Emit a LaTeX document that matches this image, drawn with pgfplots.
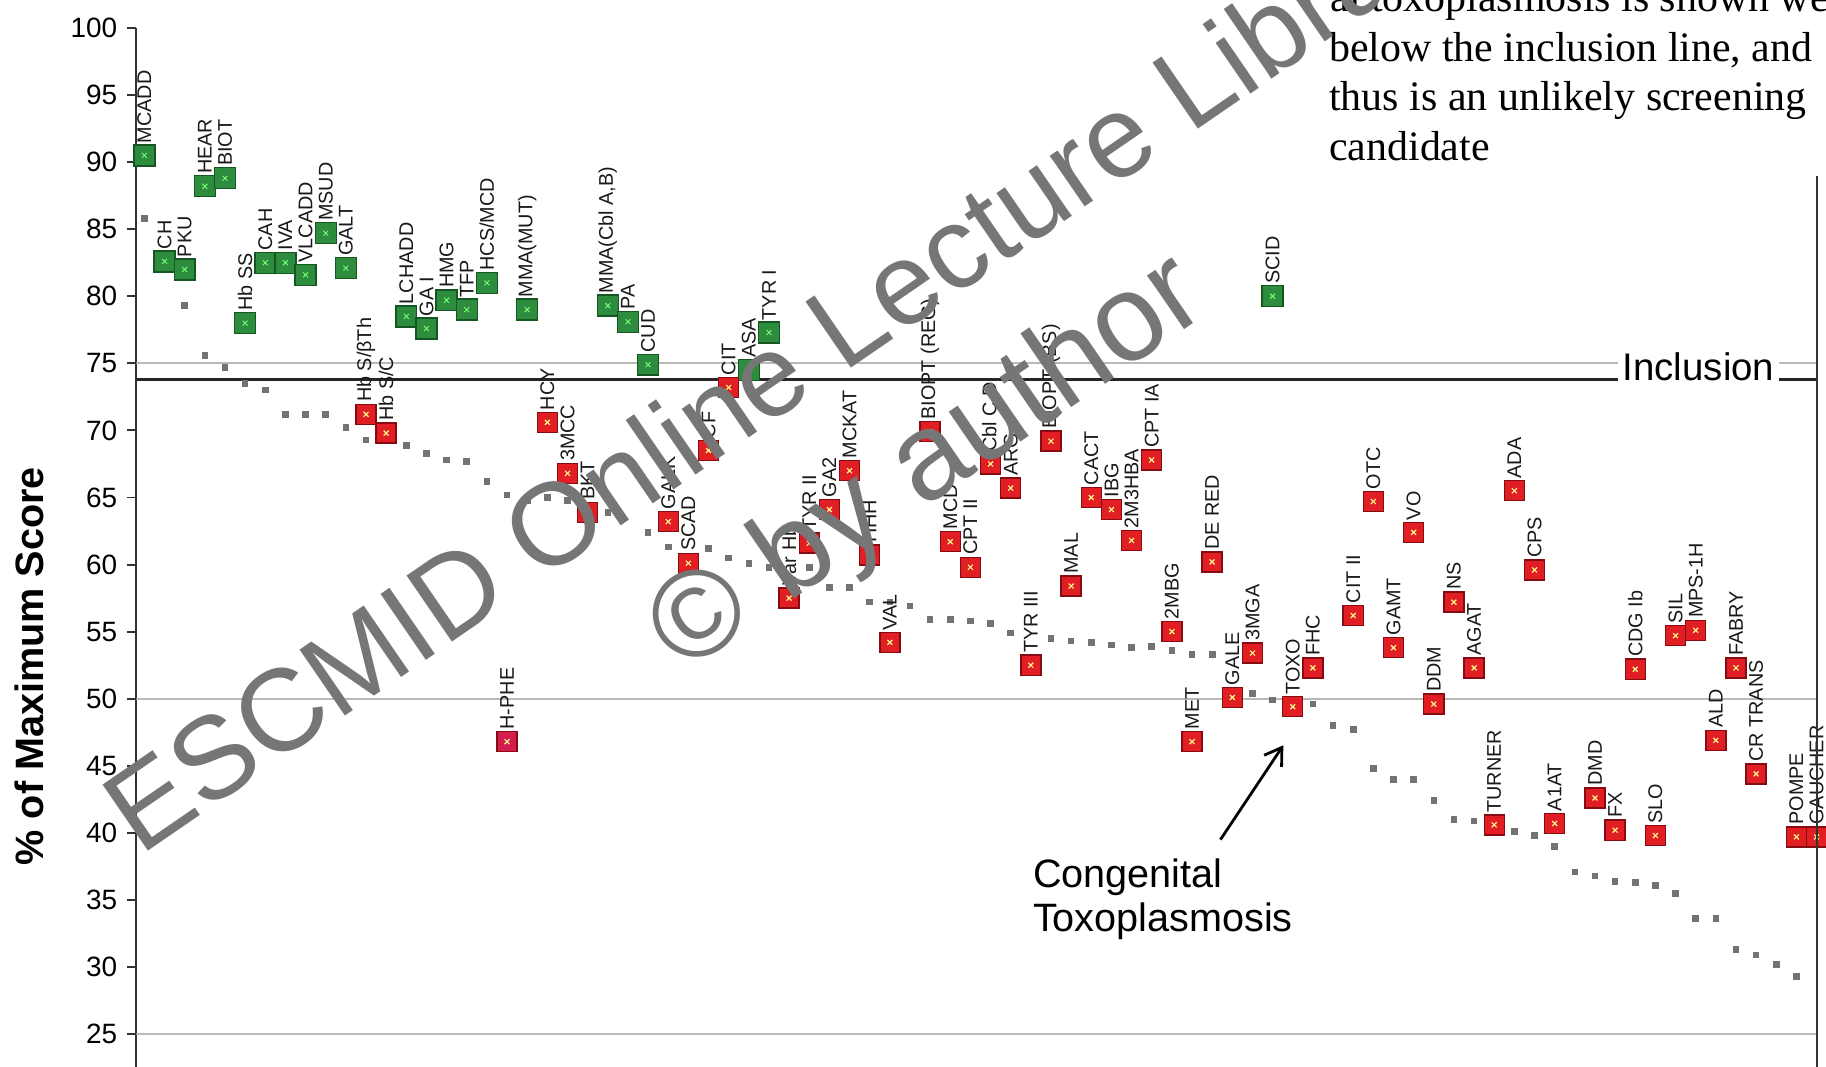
\documentclass[border=0pt]{standalone}
\usepackage{fontspec}
\setmainfont{Liberation Sans}
\newfontfamily\seriffont{Liberation Serif}
\usepackage{pgfplots}
\usepackage{pgfplotstable}
\pgfplotsset{compat=1.18}
\usetikzlibrary{arrows.meta}

\definecolor{gfill}{RGB}{46,140,62}
\definecolor{gdraw}{RGB}{22,86,34}
\definecolor{rfill}{RGB}{224,30,36}
\definecolor{rdraw}{RGB}{135,12,18}
\definecolor{pfill}{RGB}{212,28,78}
\definecolor{dotc}{RGB}{115,115,115}
\definecolor{wm}{RGB}{118,118,118}

% survey ranking series (small grey squares)
\pgfplotstableread{
x y
0 85.8
2 79.3
3 75.6
4 74.7
5 73.5
6 73.0
7 71.2
8 71.2
9 71.2
10 70.2
11 69.3
13 68.9
14 68.3
15 67.8
16 67.7
17 66.2
18 65.2
19 64.8
20 65.0
21 64.8
23 63.9
25 62.4
26 61.3
28 61.2
29 60.5
30 60.1
31 59.8
33 59.8
34 58.3
35 58.3
36 57.2
37 57.2
38 56.9
39 55.9
40 55.9
41 55.8
42 55.6
43 54.9
45 54.5
46 54.3
47 54.2
48 54.0
49 53.8
50 53.9
51 53.6
52 53.3
53 53.3
55 50.4
56 49.9
58 49.6
59 48.0
60 47.7
61 44.8
62 44.0
63 44.0
64 42.4
65 41.0
66 40.9
68 40.1
69 39.8
70 39.0
71 37.1
72 36.8
73 36.4
74 36.3
75 36.1
76 35.5
77 33.6
78 33.6
79 31.3
80 30.9
81 30.2
82 29.3
}\dotdata

% conditions above the inclusion line
\pgfplotstableread{
x y lab
0 90.5 MCADD
1 82.6 CH
2 82.0 PKU
3 88.2 HEAR
4 88.8 BIOT
5 78.0 {Hb SS}
6 82.5 CAH
7 82.5 IVA
8 81.6 VLCADD
9 84.7 MSUD
10 82.1 GALT
13 78.5 LCHADD
14 77.6 {GA I}
15 79.7 HMG
16 79.0 TFP
17 81.0 HCS/MCD
19 79.0 MMA(MUT)
23 79.3 {MMA(Cbl A,B)}
24 78.1 PA
25 74.9 CUD
30 74.5 ASA
31 77.3 {TYR I}
56 80.0 SCID
}\greendata

% conditions below the inclusion line
\pgfplotstableread{
x y lab
11 71.2 {Hb S/βTh}
12 69.8 {Hb S/C}
20 70.6 HCY
21 66.8 3MCC
22 63.9 BKT
26 63.2 GALK
27 60.1 SCAD
28 68.5 CF
29 73.2 CIT
32 57.5 {Var Hb}
33 61.6 {TYR II}
34 64.1 GA2
35 67.0 MCKAT
36 60.7 HHH
37 54.2 VAL
39 69.9 {BIOPT (REG)}
40 61.7 MCD
41 59.8 {CPT II}
42 67.5 {Cbl C,D}
43 65.7 ARG
44 52.5 {TYR III}
45 69.2 {BIOPT (BS)}
46 58.4 MAL
47 65.0 CACT
48 64.1 IBG
49 61.8 2M3HBA
50 67.8 {CPT IA}
51 55.0 2MBG
52 46.8 MET
53 60.2 {DE RED}
54 50.1 GALE
55 53.4 3MGA
57 49.4 TOXO
58 52.3 FHC
60 56.2 {CIT II}
61 64.7 OTC
62 53.8 GAMT
63 62.4 VO
64 49.6 DDM
65 57.2 NS
66 52.3 AGAT
67 40.6 TURNER
68 65.5 ADA
69 59.6 CPS
70 40.7 A1AT
72 42.6 DMD
73 40.2 FX
74 52.2 {CDG Ib}
75 39.8 SLO
76 54.7 SIL
77 55.1 MPS-1H
78 46.9 ALD
79 52.3 FABRY
80 44.4 {CR TRANS}
82 39.7 POMPE
83 39.7 GAUCHER
}\reddata

\pgfplotstableread{
x y lab
18 46.8 H-PHE
}\pinkdata

\begin{document}
\begin{tikzpicture}
\useasboundingbox (0pt,0pt) rectangle (784pt,-458pt);
\begin{scope}[overlay]
\clip (0pt,0pt) rectangle (784pt,-458pt);
\fill[white] (0pt,0pt) rectangle (784pt,-458pt);
\begin{axis}[
  at={(58.5pt,-12pt)}, anchor=north west,
  width=721.5pt, height=460.8pt, scale only axis,
  xmin=-0.4046, xmax=83.006, ymin=20, ymax=100,
  axis y line*=left, axis x line=none,
  xtick=\empty,
  ytick={25,30,...,100},
  tick align=outside, major tick length=4pt,
  tick style={black!80, line width=0.8pt},
  axis line style={black!80, line width=1pt},
  /pgf/number format/assume math mode=true,
  yticklabel style={font=\fontsize{12}{12}\selectfont, anchor=east, inner sep=0pt, xshift=-4pt},
  lab/.style={nodes near coords, point meta=explicit symbolic,
    every node near coord/.append style={rotate=90, anchor=west, inner xsep=5pt, inner ysep=0pt,
      font=\fontsize{8.5}{8.5}\selectfont, text=black!90}},
]
\addplot[gray!55, line width=0.8pt] coordinates {(-1,75) (84,75)};
\addplot[gray!55, line width=0.8pt] coordinates {(-1,50) (84,50)};
\addplot[gray!55, line width=0.8pt] coordinates {(-1,25) (84,25)};
\addplot[black!85, line width=1.6pt] coordinates {(-1,73.8) (84,73.8)};

\addplot[only marks, mark=square*, mark size=1.2pt, mark options={fill=dotc, draw=dotc}] table[x=x,y=y] {\dotdata};

\addplot[only marks, mark=square*, mark size=4.5pt, mark options={fill=gfill, draw=gdraw, line width=0.6pt}, lab] table[x=x,y=y,meta=lab] {\greendata};
\addplot[only marks, mark=x, mark size=1.5pt, mark options={draw=green!55!white, line width=0.4pt}] table[x=x,y=y] {\greendata};

\addplot[only marks, mark=square*, mark size=4.3pt, mark options={fill=rfill, draw=rdraw, line width=0.6pt}, lab] table[x=x,y=y,meta=lab] {\reddata};
\addplot[only marks, mark=x, mark size=1.5pt, mark options={draw=yellow!45!white, line width=0.5pt}] table[x=x,y=y] {\reddata};

\addplot[only marks, mark=square*, mark size=4.3pt, mark options={fill=pfill, draw=rdraw, line width=0.6pt}, lab] table[x=x,y=y,meta=lab] {\pinkdata};
\addplot[only marks, mark=x, mark size=1.5pt, mark options={draw=yellow!45!white, line width=0.5pt}] table[x=x,y=y] {\pinkdata};
\end{axis}

% y label
\node[rotate=90, font=\bfseries\fontsize{17}{17}\selectfont] at (12.5pt,-286pt) {\% of Maximum Score};

% inclusion label
\node[anchor=base west, fill=white, inner xsep=2pt, inner ysep=1.6pt, font=\fontsize{16.5}{16.5}\selectfont] at (694.5pt,-163.5pt) {Inclusion};

% annotation
\node[anchor=base west, font=\fontsize{17}{17}\selectfont] at (440pt,-381pt) {Congenital};
\node[anchor=base west, font=\fontsize{17}{17}\selectfont] at (440pt,-400pt) {Toxoplasmosis};
\draw[line width=1.2pt, -{Straight Barb[length=7pt,width=9pt]}] (524pt,-360.5pt) -- (551pt,-320pt);

% text box of the page
\fill[white] (561pt,1pt) rectangle (785pt,-75.5pt);
\draw[black!80, line width=1pt] (780pt,-75.5pt) -- (780pt,-460pt);
\node[anchor=base west, inner sep=0pt, font=\seriffont\fontsize{18}{21}\selectfont] at (571pt,-5pt) {al toxoplasmosis is shown well};
\node[anchor=base west, inner sep=0pt, font=\seriffont\fontsize{18}{21}\selectfont] at (570.5pt,-26.5pt) {below the inclusion line, and};
\node[anchor=base west, inner sep=0pt, font=\seriffont\fontsize{18}{21}\selectfont] at (570.5pt,-47.5pt) {thus is an unlikely screening};
\node[anchor=base west, inner sep=0pt, font=\seriffont\fontsize{18}{21}\selectfont] at (570.5pt,-69pt) {candidate};

% watermark
\node[rotate=34.5, anchor=base west, inner sep=0pt, text=wm, font=\fontsize{50}{50}\selectfont] at (60pt,-368pt) {ESCMID Online Lecture Library};
\node[rotate=34.5, anchor=base west, inner sep=0pt, text=wm, font=\fontsize{53}{53}\selectfont] at (293.5pt,-289.5pt) {© by author};
\end{scope}
\end{tikzpicture}
\end{document}
